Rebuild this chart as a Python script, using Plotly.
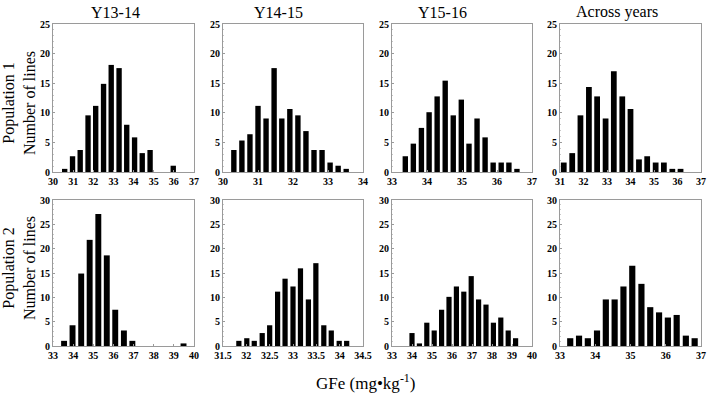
import plotly.graph_objects as go

# ---------------- data ----------------
col_titles = ["Y13-14", "Y14-15", "Y15-16", "Across years"]
row_titles = ["Population 1<br>Number of lines", "Population 2<br>Number of lines"]
x_title = "GFe (mg•kg<sup>-1</sup>)"

# Population 1
p1_y1314_x = [30.58, 30.97, 31.35, 31.74, 32.12, 32.51, 32.89, 33.28, 33.66, 34.05, 34.43, 34.82, 35.2, 35.59, 35.97]
p1_y1314_v = [0.53, 2.66, 3.72, 9.57, 11.17, 14.89, 18.09, 17.55, 7.98, 5.85, 3.19, 3.72, 0, 0, 1.06]
p1_y1415_x = [30.31, 30.54, 30.77, 31.0, 31.23, 31.46, 31.68, 31.91, 32.14, 32.37, 32.6, 32.83, 33.06, 33.29, 33.52]
p1_y1415_v = [3.72, 5.32, 6.38, 11.17, 9.04, 17.55, 9.04, 10.64, 9.57, 6.91, 3.72, 3.72, 1.6, 1.06, 0.53]
p1_y1516_x = [33.38, 33.61, 33.84, 34.06, 34.29, 34.52, 34.75, 34.98, 35.2, 35.43, 35.66, 35.89, 36.12, 36.34, 36.57]
p1_y1516_v = [2.66, 4.79, 7.45, 10.1, 12.77, 15.43, 9.57, 12.23, 4.79, 9.04, 5.85, 1.6, 1.6, 1.6, 0.53]
p1_all_x = [31.16, 31.52, 31.87, 32.23, 32.58, 32.94, 33.29, 33.65, 34.0, 34.36, 34.71, 35.07, 35.42, 35.78, 36.13]
p1_all_v = [1.6, 3.19, 9.57, 14.36, 12.77, 9.04, 17.02, 12.77, 10.64, 2.13, 2.66, 1.6, 1.6, 0.53, 0.53]

# Population 2
p2_y1314_x = [33.55, 33.97, 34.4, 34.82, 35.25, 35.67, 36.09, 36.52, 36.94, 37.37, 37.79, 38.21, 38.64, 39.06, 39.48]
p2_y1314_v = [1.06, 4.26, 14.89, 21.81, 27.13, 18.62, 7.45, 3.19, 1.06, 0, 0, 0, 0, 0, 0.53]
p2_y1415_x = [31.84, 32.01, 32.17, 32.34, 32.5, 32.67, 32.83, 33.0, 33.16, 33.33, 33.49, 33.66, 33.82, 33.99, 34.15]
p2_y1415_v = [1.06, 1.6, 1.06, 2.66, 4.26, 11.17, 13.83, 12.23, 15.96, 9.57, 17.02, 4.26, 3.19, 1.06, 1.06]
p2_y1516_x = [34.0, 34.37, 34.74, 35.11, 35.48, 35.85, 36.22, 36.59, 36.96, 37.33, 37.7, 38.07, 38.44, 38.81, 39.18]
p2_y1516_v = [2.66, 0.53, 4.79, 3.19, 7.45, 10.1, 12.23, 11.17, 14.36, 9.57, 8.51, 4.79, 5.85, 3.19, 1.6]
p2_all_x = [33.29, 33.54, 33.79, 34.05, 34.3, 34.55, 34.8, 35.05, 35.31, 35.56, 35.81, 36.06, 36.31, 36.57, 36.82]
p2_all_v = [1.6, 2.13, 1.6, 3.19, 9.57, 9.57, 12.23, 16.49, 12.77, 7.98, 6.91, 5.85, 6.38, 2.13, 1.6]

# axis ranges and tick steps per panel
x_ranges = [[30, 37], [30, 34], [33, 37], [31, 37], [33, 40], [31.5, 34.5], [33, 40], [33, 37]]
x_dticks = [1, 1, 1, 1, 1, 0.5, 1, 1]
y_ranges = [[0, 25], [0, 30]]

series = [
    (p1_y1314_x, p1_y1314_v), (p1_y1415_x, p1_y1415_v), (p1_y1516_x, p1_y1516_v), (p1_all_x, p1_all_v),
    (p2_y1314_x, p2_y1314_v), (p2_y1415_x, p2_y1415_v), (p2_y1516_x, p2_y1516_v), (p2_all_x, p2_all_v),
]

# ---------------- layout ----------------
W, H = 708, 401
col_px = [(53, 194), (223, 363), (392, 532), (560, 701)]
row_px = [(24, 172), (200, 346)]


def px_x(v):
    return v / W


def px_y(v):
    return 1 - v / H


serif = "Liberation Serif, Times New Roman, serif"
fig = go.Figure()
layout = dict(
    width=W, height=H,
    margin=dict(l=0, r=0, t=0, b=0, pad=0, autoexpand=False),
    paper_bgcolor="white", plot_bgcolor="white",
    showlegend=False, bargap=0.3, hovermode=False,
    font=dict(family=serif, color="black"),
)

for i, (xs, vs) in enumerate(series):
    r, c = divmod(i, 4)
    n = i + 1
    xa = "x" if n == 1 else f"x{n}"
    ya = "y" if n == 1 else f"y{n}"
    fig.add_trace(go.Bar(x=xs, y=vs, xaxis=xa, yaxis=ya,
                         marker=dict(color="black", line=dict(width=0))))
    x0, x1 = col_px[c]
    y0, y1 = row_px[r]
    axis_common = dict(showline=True, linecolor="#9a9a9a", linewidth=1, mirror=True,
                       showgrid=False, zeroline=False, automargin=False,
                       ticklabeloverflow="allow",
                       tickfont=dict(family=serif, size=10, weight="bold", color="black"),
                       ticks="inside", ticklen=2, tickcolor="#9a9a9a")
    layout["xaxis" if n == 1 else f"xaxis{n}"] = dict(
        domain=[px_x(x0), px_x(x1)], range=x_ranges[i], dtick=x_dticks[i], tick0=x_ranges[i][0],
        anchor=ya, **axis_common)
    layout["yaxis" if n == 1 else f"yaxis{n}"] = dict(
        domain=[px_y(y1), px_y(y0)], range=y_ranges[r], dtick=5, tick0=0,
        anchor=xa, minor=dict(ticks="inside", ticklen=1, tickcolor="#c8c8c8", dtick=1),
        **axis_common)

annotations = []
title_x = [115, 278, 442, 617]
for c, t in enumerate(col_titles):
    annotations.append(dict(text=t, x=px_x(title_x[c]), y=px_y(12), xref="paper", yref="paper",
                            showarrow=False, xanchor="center", yanchor="middle",
                            font=dict(family=serif, size=16, color="black")))
row_cy = [103, 268]
for r, t in enumerate(row_titles):
    annotations.append(dict(text=t, x=px_x(19), y=px_y(row_cy[r]), xref="paper", yref="paper",
                            showarrow=False, textangle=-90, xanchor="center", yanchor="middle",
                            font=dict(family=serif, size=16, color="black")))
annotations.append(dict(text=x_title, x=px_x(366), y=px_y(382), xref="paper", yref="paper",
                        showarrow=False, xanchor="center", yanchor="middle",
                        font=dict(family=serif, size=17, color="black")))
layout["annotations"] = annotations

fig.update_layout(**layout)
# remove the browser's default 8px page margin so the figure fills the window exactly
fig.write_html("out.html", config={"displayModeBar": False},
               post_script="document.body.style.margin='0px';")
